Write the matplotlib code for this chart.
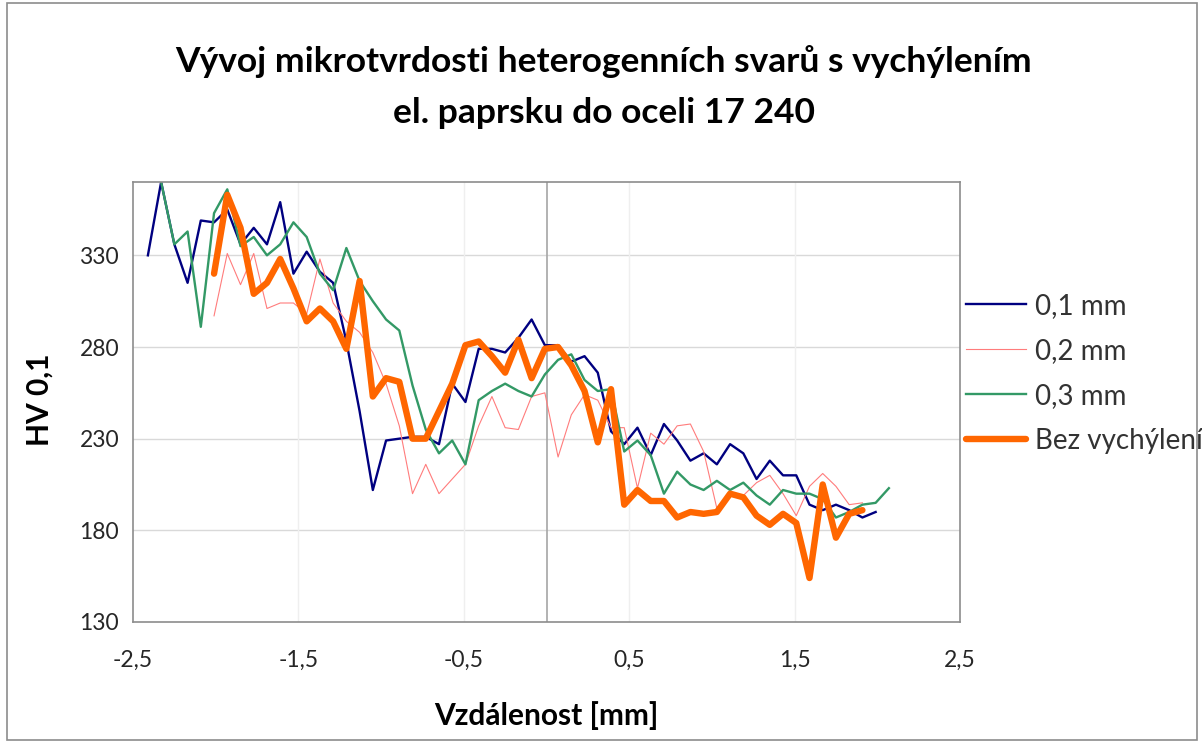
import matplotlib.pyplot as plt
from matplotlib.patches import Rectangle

# measurement positions [mm], shared by all series
x = [-2.41, -2.33, -2.25, -2.17, -2.09, -2.01, -1.93, -1.85, -1.77, -1.69,
     -1.61, -1.53, -1.45, -1.37, -1.29, -1.21, -1.13, -1.05, -0.97, -0.89,
     -0.81, -0.73, -0.65, -0.57, -0.49, -0.41, -0.33, -0.25, -0.17, -0.09,
     -0.01, 0.07, 0.15, 0.23, 0.31, 0.39, 0.47, 0.55, 0.63, 0.71,
     0.79, 0.87, 0.95, 1.03, 1.11, 1.19, 1.27, 1.35, 1.43, 1.51,
     1.59, 1.67, 1.75, 1.83, 1.91, 1.99, 2.07]

# HV 0,1 values
hv_01 = [330, 370, 336, 315, 349, 348, 355, 336, 345, 336,
         359, 320, 332, 321, 315, 283, 245, 202, 229, 230,
         231, 231, 227, 260, 250, 279, 279, 277, 285, 295,
         281, 281, 272, 275, 266, 234, 227, 236, 221, 238,
         229, 218, 222, 216, 227, 222, 208, 218, 210, 210,
         194, 191, 194, 191, 187, 190]          # x[0:56]
hv_02 = [297, 331, 314, 331, 301, 304, 304, 298, 328, 304,
         294, 288, 277, 260, 237, 200, 216, 200, 208, 216,
         237, 253, 236, 235, 253, 255, 220, 243, 254, 251,
         236, 236, 203, 233, 227, 237, 238, 223, 192, 200,
         199, 206, 210, 200, 188, 204, 211, 204, 194, 195]  # x[5:55]
hv_03 = [370, 336, 343, 291, 353, 366, 335, 340, 330, 336,
         348, 340, 320, 311, 334, 316, 305, 295, 289, 259,
         235, 222, 229, 216, 251, 256, 260, 256, 253, 265,
         273, 276, 262, 256, 257, 223, 229, 221, 200, 212,
         205, 202, 207, 202, 206, 199, 194, 202, 200, 200,
         197, 187, 190, 194, 195, 203]          # x[1:57]
hv_bez = [320, 363, 345, 309, 315, 328, 312, 294, 301, 294,
          279, 316, 253, 263, 261, 230, 230, 245, 260, 281,
          283, 275, 266, 284, 263, 279, 280, 270, 256, 228,
          257, 194, 202, 196, 196, 187, 190, 189, 190, 200,
          198, 188, 183, 189, 184, 154, 205, 176, 189, 191]  # x[5:55]

labels = ['0,1 mm', '0,2 mm', '0,3 mm', 'Bez vychýlení']
x_ticks = [-2.5, -1.5, -0.5, 0.5, 1.5, 2.5]
y_ticks = [130, 180, 230, 280, 330]

plt.rcParams['font.family'] = ['Lato', 'DejaVu Sans']

fig = plt.figure(figsize=(12.02, 7.42), dpi=100)
fig.patches.append(Rectangle((7 / 1202, 2 / 742), 1190 / 1202, 737 / 742,
                             transform=fig.transFigure, fill=False,
                             edgecolor='#8c8c8c', lw=1.2))
ax = fig.add_axes([133 / 1202, 1 - 622 / 742, 827 / 1202, 440 / 742])

ax.plot(x[0:56], hv_01, color='#000080', lw=1.7, label=labels[0])
ax.plot(x[5:55], hv_02, color='#ff7c7c', lw=0.8, label=labels[1])
ax.plot(x[1:57], hv_03, color='#339966', lw=1.7, label=labels[2])
ax.plot(x[5:55], hv_bez, color='#ff6600', lw=4.6, label=labels[3],
        solid_joinstyle='round', solid_capstyle='round')

ax.set_xlim(-2.5, 2.5)
ax.set_ylim(130, 370)
ax.set_xticks(x_ticks)
ax.set_xticklabels([f'{v:.1f}'.replace('.', ',') for v in x_ticks])
ax.set_yticks(y_ticks)
ax.tick_params(length=0, labelsize=16.5, colors='#262626')
ax.tick_params(axis='x', pad=20)
ax.tick_params(axis='y', pad=10)

for v in y_ticks[1:]:
    ax.axhline(v, color='#d9d9d9', lw=1, zorder=0)
for v in x_ticks[1:-1]:
    ax.axvline(v, color='#efefef', lw=1, zorder=0)
ax.axvline(0, color='#a6a6a6', lw=1.2, zorder=0)
for s in ax.spines.values():
    s.set_color('#8c8c8c')
    s.set_linewidth(1.2)

fig.text(604 / 1202, 1 - 62 / 742,
         'Vývoj mikrotvrdosti heterogenních svarů s vychýlením',
         ha='center', va='center', fontsize=25.5, fontweight='bold')
fig.text(604 / 1202, 1 - 113 / 742, 'el. paprsku do oceli 17 240',
         ha='center', va='center', fontsize=25.5, fontweight='bold')
fig.text(40 / 1202, 1 - 400 / 742, 'HV 0,1', rotation=90,
         ha='center', va='center', fontsize=21.5, fontweight='bold')
fig.text(546 / 1202, 1 - 716 / 742, 'Vzdálenost [mm]',
         ha='center', va='center', fontsize=21.5, fontweight='bold')

ax.legend(loc='upper left', bbox_to_anchor=(966 / 1202, 1 - 293 / 742),
          bbox_transform=fig.transFigure, frameon=False, fontsize=20,
          handlelength=2.15, handletextpad=0.32, labelspacing=0.68,
          borderaxespad=0, borderpad=0, labelcolor='#333333')

fig.savefig('out.png', dpi=100)
